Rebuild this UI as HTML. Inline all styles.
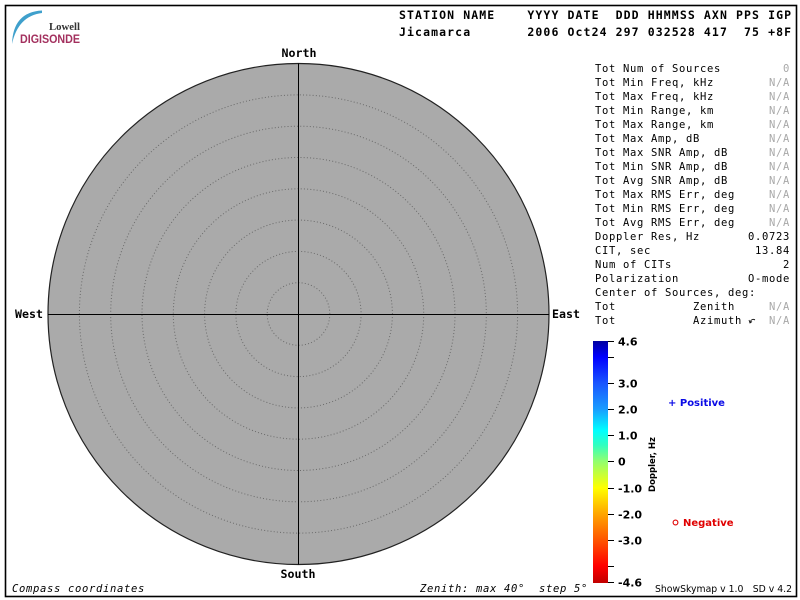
<!DOCTYPE html>
<html><head><meta charset="utf-8">
<style>
html,body{margin:0;padding:0;background:#fff;}
svg{display:block;}
.hd{font-family:"DejaVu Sans Mono","Liberation Mono",monospace;font-weight:bold;font-size:11.5px;letter-spacing:1.1px;fill:#000;}
.rp{font-family:"DejaVu Sans Mono","Liberation Mono",monospace;font-size:10.5px;letter-spacing:0.68px;fill:#000;}
.na{fill:#a8a8a8;}
.cmp{font-family:"DejaVu Sans Mono","Liberation Mono",monospace;font-weight:bold;font-size:11.6px;fill:#000;}
.ft{font-family:"DejaVu Sans Mono","Liberation Mono",monospace;font-style:italic;font-size:10.5px;letter-spacing:0.68px;fill:#000;}
.cb{font-family:"DejaVu Sans","Liberation Sans",sans-serif;font-weight:bold;font-size:11px;fill:#000;}
.lg{font-family:"DejaVu Sans","Liberation Sans",sans-serif;font-weight:bold;font-size:10px;}
.ver{font-family:"DejaVu Sans","Liberation Sans",sans-serif;font-size:9.3px;fill:#000;}
</style></head>
<body>
<svg width="800" height="600" viewBox="0 0 800 600" xmlns="http://www.w3.org/2000/svg">
<defs>
<linearGradient id="g" x1="0" y1="0" x2="0" y2="1">
<stop offset="0" stop-color="#0000a0"/>
<stop offset="0.066" stop-color="#0000ff"/>
<stop offset="0.174" stop-color="#1a55ff"/>
<stop offset="0.281" stop-color="#1a9cff"/>
<stop offset="0.37" stop-color="#00ffff"/>
<stop offset="0.43" stop-color="#30ffc0"/>
<stop offset="0.496" stop-color="#90ff70"/>
<stop offset="0.607" stop-color="#ffff00"/>
<stop offset="0.715" stop-color="#ffa500"/>
<stop offset="0.822" stop-color="#ff5500"/>
<stop offset="0.93" stop-color="#ff0000"/>
<stop offset="1" stop-color="#c00000"/>
</linearGradient>
</defs>
<rect x="0" y="0" width="800" height="600" fill="#fff"/>
<rect x="5.5" y="5.5" width="791" height="591" fill="none" stroke="#000" stroke-width="1.6"/>

<!-- logo -->
<path d="M42 10.5 Q13 12 12 44 Q18 16 42 13 Z" fill="#3fa0cc"/>
<text x="49" y="30" font-family="Liberation Serif, serif" font-weight="bold" font-size="10.5" fill="#333" textLength="31" lengthAdjust="spacingAndGlyphs">Lowell</text>
<text x="20" y="43" font-family="Liberation Sans, sans-serif" font-weight="bold" font-size="11.5" fill="#a3305e" textLength="60" lengthAdjust="spacingAndGlyphs">DIGISONDE</text>

<!-- header -->
<text class="hd" x="399" y="19" xml:space="preserve">STATION NAME    YYYY DATE  DDD HHMMSS AXN PPS IGP</text>
<text class="hd" x="399" y="36" xml:space="preserve">Jicamarca       2006 Oct24 297 032528 417  75 +8F</text>

<!-- polar plot -->
<circle cx="298.5" cy="314" r="250.5" fill="#aaaaaa" stroke="#222" stroke-width="1.2"/>
<g fill="none" stroke="#6a6a6a" stroke-width="1" stroke-dasharray="1 2.2">
<circle cx="298.5" cy="314" r="31.3"/>
<circle cx="298.5" cy="314" r="62.6"/>
<circle cx="298.5" cy="314" r="93.9"/>
<circle cx="298.5" cy="314" r="125.2"/>
<circle cx="298.5" cy="314" r="156.5"/>
<circle cx="298.5" cy="314" r="187.8"/>
<circle cx="298.5" cy="314" r="219.1"/>
</g>
<line x1="48" y1="314.5" x2="549" y2="314.5" stroke="#000" stroke-width="1"/>
<line x1="298.5" y1="63.5" x2="298.5" y2="564.5" stroke="#000" stroke-width="1"/>

<text class="cmp" x="299" y="57" text-anchor="middle">North</text>
<text class="cmp" x="298" y="578" text-anchor="middle">South</text>
<text class="cmp" x="15" y="318">West</text>
<text class="cmp" x="552" y="318">East</text>

<!-- right panel -->
<g class="rp">
<text x="595" y="72">Tot Num of Sources</text><text x="790" y="72" text-anchor="end" class="na">0</text>
<text x="595" y="86">Tot Min Freq, kHz</text><text x="790" y="86" text-anchor="end" class="na">N/A</text>
<text x="595" y="100">Tot Max Freq, kHz</text><text x="790" y="100" text-anchor="end" class="na">N/A</text>
<text x="595" y="114">Tot Min Range, km</text><text x="790" y="114" text-anchor="end" class="na">N/A</text>
<text x="595" y="128">Tot Max Range, km</text><text x="790" y="128" text-anchor="end" class="na">N/A</text>
<text x="595" y="142">Tot Max Amp, dB</text><text x="790" y="142" text-anchor="end" class="na">N/A</text>
<text x="595" y="156">Tot Max SNR Amp, dB</text><text x="790" y="156" text-anchor="end" class="na">N/A</text>
<text x="595" y="170">Tot Min SNR Amp, dB</text><text x="790" y="170" text-anchor="end" class="na">N/A</text>
<text x="595" y="184">Tot Avg SNR Amp, dB</text><text x="790" y="184" text-anchor="end" class="na">N/A</text>
<text x="595" y="198">Tot Max RMS Err, deg</text><text x="790" y="198" text-anchor="end" class="na">N/A</text>
<text x="595" y="212">Tot Min RMS Err, deg</text><text x="790" y="212" text-anchor="end" class="na">N/A</text>
<text x="595" y="226">Tot Avg RMS Err, deg</text><text x="790" y="226" text-anchor="end" class="na">N/A</text>
<text x="595" y="240">Doppler Res, Hz</text><text x="790" y="240" text-anchor="end">0.0723</text>
<text x="595" y="254">CIT, sec</text><text x="790" y="254" text-anchor="end">13.84</text>
<text x="595" y="268">Num of CITs</text><text x="790" y="268" text-anchor="end">2</text>
<text x="595" y="282">Polarization</text><text x="790" y="282" text-anchor="end">O-mode</text>
<text x="595" y="296">Center of Sources, deg:</text>
<text x="595" y="310">Tot</text><text x="693" y="310">Zenith</text><text x="790" y="310" text-anchor="end" class="na">N/A</text>
<text x="595" y="324">Tot</text><text x="693" y="324">Azimuth</text><text x="790" y="324" text-anchor="end" class="na">N/A</text>
</g>
<path d="M750 322 Q752 318 755 320" fill="none" stroke="#000" stroke-width="0.8"/>
<path d="M749 320 L750 323 L752 321.5" fill="none" stroke="#000" stroke-width="0.8"/>

<!-- colorbar -->
<rect x="593" y="341" width="15" height="242" fill="url(#g)"/>
<g stroke="#000" stroke-width="1">
<line x1="608" y1="341.5" x2="614" y2="341.5"/>
<line x1="608" y1="357.5" x2="614" y2="357.5"/>
<line x1="608" y1="383.5" x2="614" y2="383.5"/>
<line x1="608" y1="409.5" x2="614" y2="409.5"/>
<line x1="608" y1="435.5" x2="614" y2="435.5"/>
<line x1="608" y1="461.5" x2="614" y2="461.5"/>
<line x1="608" y1="488.5" x2="614" y2="488.5"/>
<line x1="608" y1="514.5" x2="614" y2="514.5"/>
<line x1="608" y1="540.5" x2="614" y2="540.5"/>
<line x1="608" y1="566.5" x2="614" y2="566.5"/>
<line x1="608" y1="582.5" x2="614" y2="582.5"/>
</g>
<g class="cb">
<text x="618" y="345.5">4.6</text>
<text x="618" y="387.5">3.0</text>
<text x="618" y="413.5">2.0</text>
<text x="618" y="439.5">1.0</text>
<text x="618" y="465.5">0</text>
<text x="618" y="492.5">-1.0</text>
<text x="618" y="518.5">-2.0</text>
<text x="618" y="544.5">-3.0</text>
<text x="618" y="586.5">-4.6</text>
</g>
<text x="655" y="464.5" transform="rotate(-90 655 464.5)" text-anchor="middle" font-family="DejaVu Sans, Liberation Sans, sans-serif" font-weight="bold" font-size="8.5" fill="#000">Doppler, Hz</text>

<text class="lg" x="668" y="406" fill="#0a0ae6">+ Positive</text>
<circle cx="675.5" cy="522.5" r="2.4" fill="none" stroke="#e00000" stroke-width="1.1"/>
<text class="lg" x="683" y="526" fill="#e00000">Negative</text>

<!-- footer -->
<text class="ft" x="12" y="592">Compass coordinates</text>
<text class="ft" x="420" y="592" xml:space="preserve">Zenith: max 40°  step 5°</text>
<text class="ver" x="655" y="592">ShowSkymap v 1.0</text>
<text class="ver" x="792" y="592" text-anchor="end">SD v 4.2</text>
</svg>
</body></html>
